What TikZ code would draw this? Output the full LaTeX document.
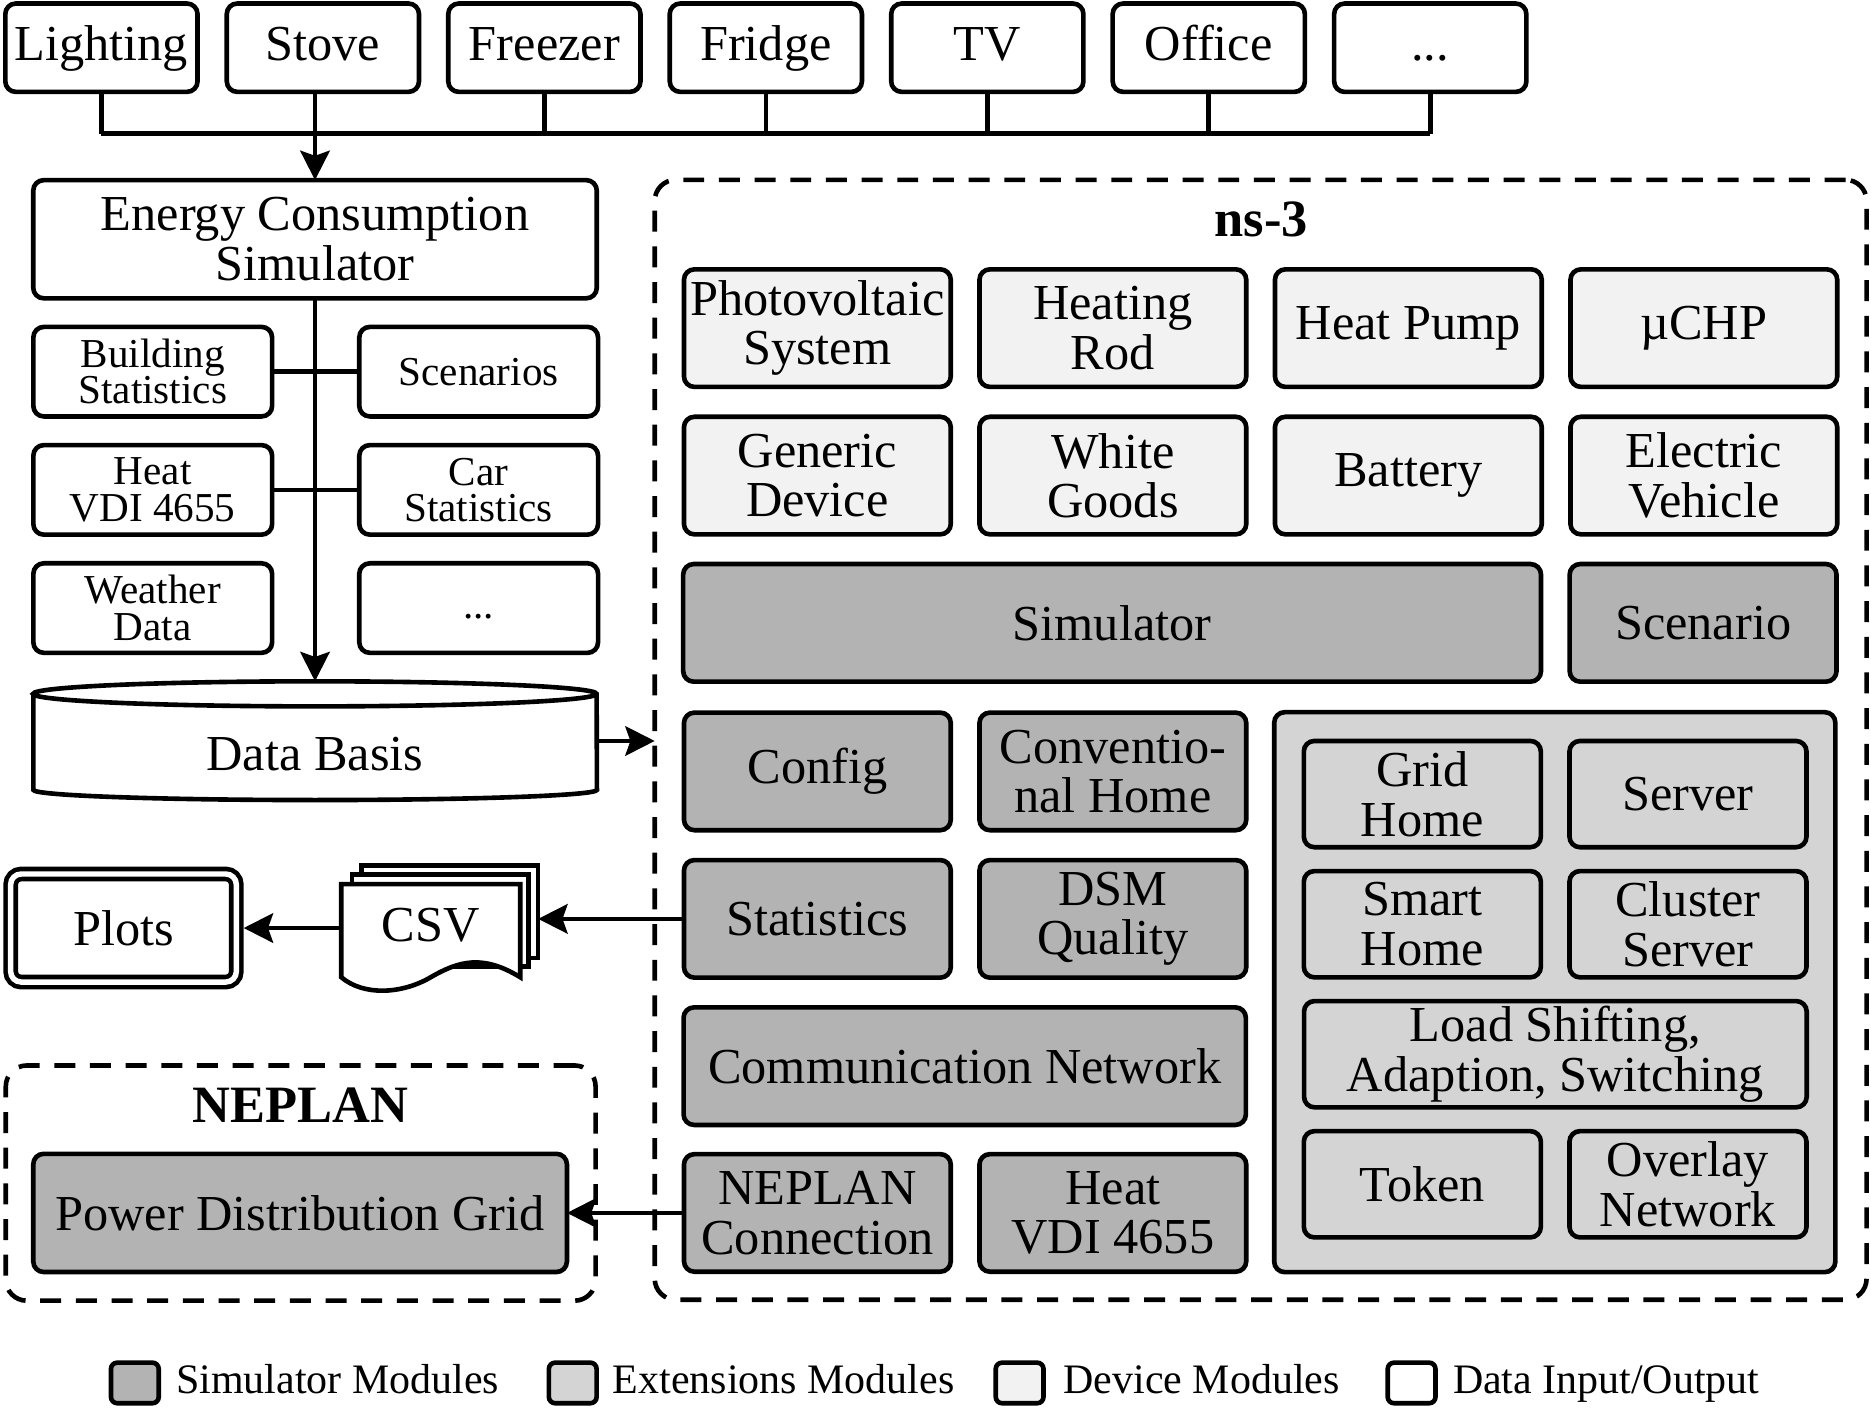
\documentclass[tikz,border=0pt]{standalone}
\usepackage{fontspec}
\setmainfont{Liberation Serif}
\usetikzlibrary{positioning,arrows.meta}
\definecolor{simgray}{RGB}{179,179,179}
\definecolor{extgray}{RGB}{212,212,212}
\definecolor{devgray}{RGB}{242,242,242}

\begin{document}
\begin{tikzpicture}[x=0.01cm,y=0.01cm,
    box/.style={draw,rectangle,line width=1.1pt,rounded corners=2.5pt,align=center,outer sep=0pt,inner sep=1pt,font=\fontsize{12}{11.8}\selectfont},
    topbox/.style={box,minimum width=1.61cm,minimum height=0.74cm,text height=8.5pt,text depth=2.5pt},
    inbox/.style={box,minimum width=2.0cm,minimum height=0.75cm,font=\fontsize{9.8}{8.7}\selectfont},
    devbox/.style={box,fill=devgray,minimum width=2.235cm,minimum height=0.985cm},
    simbox/.style={box,fill=simgray,minimum width=2.235cm,minimum height=0.985cm},
    extbox/.style={box,fill=extgray,minimum width=1.985cm,minimum height=0.89cm},
    dashframe/.style={draw,rectangle,line width=1.1pt,dash pattern=on 5pt off 3.5pt,rounded corners=5pt,outer sep=0pt},
    title/.style={font=\fontsize{12.5}{14}\selectfont\bfseries},
    legbox/.style={draw,rectangle,line width=1.1pt,rounded corners=1.5pt,minimum width=0.4cm,minimum height=0.34cm,inner sep=0pt,outer sep=0pt},
    legtext/.style={font=\fontsize{10}{12}\selectfont,inner sep=0pt,text height=7pt,text depth=2.2pt},
    wire/.style={line width=1.1pt},
    arr/.style={line width=1.1pt,-{Stealth[length=7pt,width=7pt,inset=1.2pt]}}]

    \useasboundingbox (0,0) rectangle (1568,-1180);

    % appliances
    \node[topbox] (light) at (85,-40) {Lighting};
    \node[topbox,right=0.245cm of light] (stove) {Stove};
    \node[topbox,right=0.245cm of stove] (freezer) {Freezer};
    \node[topbox,right=0.245cm of freezer] (fridge) {Fridge};
    \node[topbox,right=0.245cm of fridge] (tv) {TV};
    \node[topbox,right=0.245cm of tv] (office) {Office};
    \node[topbox,right=0.245cm of office] (more) {...};
    \coordinate (bus) at (0,-112);

    % consumption simulator and its inputs
    \node[box,minimum width=4.72cm,minimum height=0.99cm] (ecs) at (264,-200.5) {Energy Consumption\\Simulator};
    \node[inbox] (bstat) at (128,-311.5) {Building\\Statistics};
    \node[inbox,right=0.73cm of bstat] (scen) {Scenarios};
    \node[inbox,below=0.24cm of bstat] (heat) {Heat\\VDI 4655};
    \node[inbox,below=0.24cm of scen] (car) {Car\\Statistics};
    \node[inbox,below=0.24cm of heat] (weather) {Weather\\Data};
    \node[inbox,below=0.24cm of car,text height=5pt,text depth=0pt] (moredata) {...};

    % data basis
    \draw[wire,fill=white] (28,-581.5) -- (28,-662) arc[start angle=180,end angle=360,x radius=2.36cm,y radius=0.085cm] -- (500,-581.5) arc[start angle=0,end angle=360,x radius=2.36cm,y radius=0.105cm];
    \node[minimum width=4.72cm,minimum height=1cm,inner sep=0pt,outer sep=0pt,text height=14pt,text depth=0pt,font=\fontsize{12}{14}\selectfont] (db) at (264,-621) {Data Basis};

    % ns-3
    \node[dashframe,minimum width=10.15cm,minimum height=9.38cm] (ns3) at (1056.5,-620) {};
    \node[title] (ns3t) at (1057,-184) {ns-3};

    \node[devbox] (pv) at (685,-275) {Photovoltaic\\System};
    \node[devbox,right=0.24cm of pv] (hrod) {Heating\\Rod};
    \node[devbox,right=0.24cm of hrod] (hpump) {Heat Pump};
    \node[devbox,right=0.24cm of hpump] (chp) {µCHP};
    \node[devbox,below=0.25cm of pv] (generic) {Generic\\Device};
    \node[devbox,below=0.25cm of hrod] (wgoods) {White\\Goods};
    \node[devbox,below=0.25cm of hpump] (battery) {Battery};
    \node[devbox,below=0.25cm of chp] (ev) {Electric\\Vehicle};

    \node[simbox,minimum width=7.185cm] (sim) at (932,-522) {Simulator};
    \node[simbox,right=0.24cm of sim] (scenario) {Scenario};
    \node[simbox] (config) at (685,-646.5) {Config};
    \node[simbox,right=0.24cm of config] (conv) {Conventio-\\nal Home};
    \node[simbox,below=0.25cm of config] (stats) {Statistics};
    \node[simbox,below=0.25cm of conv] (dsm) {DSM\\Quality};
    \node[simbox,minimum width=4.71cm] (comm) at (808.5,-893.5) {Communication Network};
    \node[simbox] (nepcon) at (685,-1016.5) {NEPLAN\\Connection};
    \node[simbox,right=0.24cm of nepcon] (heatvdi) {Heat\\VDI 4655};

    % extensions
    \node[box,fill=extgray,minimum width=4.70cm,minimum height=4.69cm] (ext) at (1303,-831.5) {};
    \node[extbox] (ghome) at (1192,-665.5) {Grid\\Home};
    \node[extbox,right=0.24cm of ghome] (server) {Server};
    \node[extbox,below=0.2cm of ghome] (shome) {Smart\\Home};
    \node[extbox,below=0.2cm of server] (cserver) {Cluster\\Server};
    \node[extbox,minimum width=4.21cm] (loadsh) at (1303.5,-883.5) {Load Shifting,\\Adaption, Switching};
    \node[extbox] (token) at (1192,-992.5) {Token};
    \node[extbox,right=0.24cm of token] (overlay) {Overlay\\Network};

    % output
    \node[box,double,double distance=1.3pt,outer sep=1.75pt,minimum width=1.89cm,minimum height=0.905cm] (plots) at (103.5,-777.75) {Plots};
    \draw[wire,fill=white] (303,-725.5) rectangle (451,-803);
    \draw[wire,fill=white] (295,-733) rectangle (443,-810);
    \draw[wire,fill=white] (286,-741) -- (436,-741) -- (436,-819) .. controls (405,-800) and (385,-805) .. (361,-819) .. controls (337,-833) and (305,-835) .. (286,-819) -- cycle;
    \node[minimum width=1.5cm,minimum height=0.78cm,inner sep=0pt,outer sep=0pt,font=\fontsize{12}{14}\selectfont] (csv) at (361,-775) {CSV};
    \coordinate (csvin) at (451,-769.5);

    % NEPLAN
    \node[dashframe,minimum width=4.94cm,minimum height=1.97cm] (neplan) at (252,-991.5) {};
    \node[title] (neplant) at (252,-926) {NEPLAN};
    \node[box,fill=simgray,minimum width=4.47cm,minimum height=0.99cm] (pdg) at (251.5,-1016.5) {Power Distribution Grid};

    % connections
    \foreach \n in {light,freezer,fridge,tv,office,more}
        \draw[wire] (\n.south) -- (\n.south |- bus);
    \draw[wire] (light.south |- bus) -- (more.south |- bus);
    \draw[arr] (stove.south -| ecs.north) -- (ecs.north);
    \draw[wire] (bstat.east) -- (scen.west);
    \draw[wire] (heat.east) -- (car.west);
    \draw[arr] (ecs.south) -- (ecs.south |- db.north);
    \draw[arr] (db.east) -- (db.east -| ns3.west);
    \draw[arr] (stats.west) -- (stats.west -| csvin);
    \draw[arr] (csv.west |- plots.east) -- (plots.east);
    \draw[arr] (nepcon.west) -- (pdg.east);

    % legend
    \node[legbox,fill=simgray] (lsim) at (113,-1159) {};
    \node[legtext,right=0.14cm of lsim] (lsimt) {Simulator Modules};
    \node[legbox,fill=extgray] (lext) at (480,-1159) {};
    \node[legtext,right=0.13cm of lext] (lextt) {Extensions Modules};
    \node[legbox,fill=devgray] (ldev) at (854.5,-1159) {};
    \node[legtext,right=0.16cm of ldev] (ldevt) {Device Modules};
    \node[legbox,fill=white] (ldat) at (1183,-1159) {};
    \node[legtext,right=0.14cm of ldat] (ldatt) {Data Input/Output};
\end{tikzpicture}
\end{document}
